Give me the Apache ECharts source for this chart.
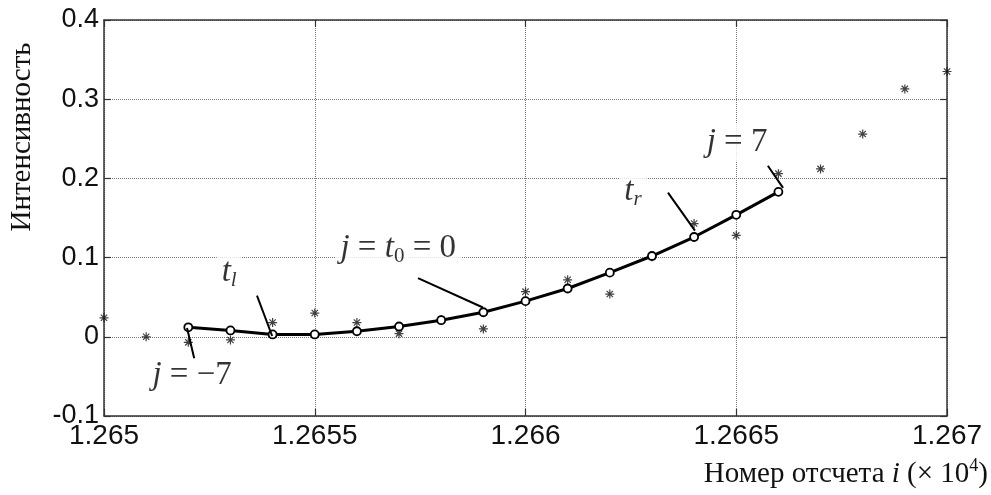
<!DOCTYPE html>
<html>
<head>
<meta charset="utf-8">
<script src="https://cdn.jsdelivr.net/npm/echarts@6/dist/echarts.min.js"></script>
<style>
  html, body { margin: 0; background: #fff; }
  #main { width: 991px; height: 495px; }
</style>
</head>
<body>
<div id="main"></div>
<script>
// sample index i (plotted as i / 1e4 on the axis labels)
const samples = [12650, 12651, 12652, 12653, 12654, 12655, 12656, 12657, 12658, 12659, 12660,
                 12661, 12662, 12663, 12664, 12665, 12666, 12667, 12668, 12669, 12670];
const measured = [0.024, 0.000, -0.007, -0.004, 0.018, 0.030, 0.018, 0.004, 0.022, 0.010, 0.057,
                  0.072, 0.054, 0.101, 0.143, 0.128, 0.206, 0.212, 0.256, 0.313, 0.335];
// fitted window j = -7 .. 7
const fitSamples = [12652, 12653, 12654, 12655, 12656, 12657, 12658, 12659,
                    12660, 12661, 12662, 12663, 12664, 12665, 12666];
const fitted = [0.012, 0.008, 0.003, 0.003, 0.007, 0.013, 0.021, 0.031,
                0.045, 0.061, 0.081, 0.102, 0.126, 0.154, 0.183];
const yTicks = [-0.1, 0, 0.1, 0.2, 0.3, 0.4];
const xTicks = [12650, 12655, 12660, 12665, 12670];

// annotation texts and leader lines (data coords)
const notes = [
  { text: '{i|j} = −7', at: [12652.09, -0.049] },
  { text: '{i|t}{subi|l}', at: [12652.97, 0.082] },
  { text: '{i|j} = {i|t}{sub|0} = 0', at: [12656.98, 0.112] },
  { text: '{i|t}{subi|r}', at: [12662.55, 0.184] },
  { text: '{i|j} = 7', at: [12665.02, 0.245] }
];
const leaders = [
  [[12651.97, 0.011], [12652.14, -0.027]],
  [[12653.63, 0.052], [12653.99, 0.001]],
  [[12657.45, 0.074], [12658.99, 0.037]],
  [[12663.38, 0.182], [12664.02, 0.134]],
  [[12665.75, 0.216], [12666.11, 0.188]]
];

const serif = 'Liberation Serif';
const sans = 'Liberation Sans';
const star = 'path://M5,0L5,10M0,5L10,5M1.5,1.5L8.5,8.5M1.5,8.5L8.5,1.5';

var myChart = echarts.init(document.getElementById('main'));

const axisLine = { show: true, onZero: false, lineStyle: { color: '#333', width: 1.5 } };
const axisTick = { show: true, inside: true, length: 7, lineStyle: { color: '#333', width: 1.2 } };
const grid = { type: 'dotted', color: '#777', width: 1 };

var option = {
  animation: false,
  backgroundColor: '#fff',
  grid: { left: 104, right: 44, top: 20, bottom: 79 },
  xAxis: [{
    type: 'value', min: xTicks[0], max: xTicks[xTicks.length - 1], interval: 5,
    position: 'bottom',
    axisLine: axisLine, axisTick: axisTick,
    splitLine: { show: true, lineStyle: grid },
    axisLabel: {
      showMinLabel: true, showMaxLabel: true, margin: 6,
      fontFamily: sans, fontSize: 28, color: '#111',
      formatter: v => String(parseFloat((v / 10000).toFixed(4)))
    }
  }, {
    type: 'value', min: xTicks[0], max: xTicks[xTicks.length - 1], interval: 5,
    position: 'top',
    axisLine: axisLine, axisTick: axisTick,
    splitLine: { show: false }, axisLabel: { show: false }
  }],
  yAxis: [{
    type: 'value', min: yTicks[0], max: yTicks[yTicks.length - 1], interval: 0.1,
    position: 'left',
    axisLine: axisLine, axisTick: axisTick,
    splitLine: { show: true, lineStyle: grid },
    axisLabel: {
      showMinLabel: true, showMaxLabel: true, margin: 5,
      fontFamily: sans, fontSize: 27, color: '#111',
      formatter: v => String(parseFloat(v.toFixed(1)))
    }
  }, {
    type: 'value', min: yTicks[0], max: yTicks[yTicks.length - 1], interval: 0.1,
    position: 'right',
    axisLine: axisLine, axisTick: axisTick,
    splitLine: { show: false }, axisLabel: { show: false }
  }],
  graphic: [{
    type: 'text', x: 22, y: 137, rotation: Math.PI / 2,
    style: {
      text: 'Интенсивность', fontFamily: serif, fontSize: 29, fill: '#111',
      align: 'center', verticalAlign: 'middle'
    }
  }, {
    type: 'text', x: 988, y: 474,
    style: {
      text: 'Номер отсчета {i|i} (× 10{sup|4})',
      fontFamily: serif, fontSize: 29, fill: '#111',
      align: 'right', verticalAlign: 'middle',
      rich: {
        i: { fontFamily: serif, fontSize: 29, fontStyle: 'italic', fill: '#111', lineHeight: 34 },
        sup: { fontFamily: serif, fontSize: 18, fill: '#111', lineHeight: 14, verticalAlign: 'top' }
      }
    }
  }],
  series: [{
    name: 'measured',
    type: 'scatter',
    data: samples.map((x, k) => [x, measured[k]]),
    symbol: star, symbolSize: 9,
    itemStyle: { color: 'none', borderColor: '#111', borderWidth: 1.2 },
    z: 2
  }, {
    name: 'fit',
    type: 'line',
    data: fitSamples.map((x, k) => [x, fitted[k]]),
    symbol: 'circle', symbolSize: 8, showSymbol: true,
    lineStyle: { color: '#000', width: 3 },
    itemStyle: { color: '#fff', borderColor: '#000', borderWidth: 1.8 },
    markLine: {
      silent: true, symbol: ['none', 'none'], animation: false,
      label: { show: false },
      lineStyle: { color: '#000', width: 2, type: 'solid' },
      data: leaders.map(p => [{ coord: p[0] }, { coord: p[1] }])
    },
    z: 3
  }, {
    name: 'notes',
    type: 'scatter',
    symbolSize: 0,
    silent: true,
    data: notes.map(n => ({ value: n.at, text: n.text })),
    label: {
      show: true, position: 'inside',
      formatter: p => p.data.text,
      fontFamily: serif, fontSize: 33, color: '#000', lineHeight: 38,
      backgroundColor: '#fff', padding: [0, 5],
      rich: {
        i: { fontFamily: serif, fontSize: 33, fontStyle: 'italic', color: '#000', lineHeight: 38 },
        subi: { fontFamily: serif, fontSize: 21, fontStyle: 'italic', color: '#000', lineHeight: 18, verticalAlign: 'bottom' },
        sub: { fontFamily: serif, fontSize: 21, color: '#000', lineHeight: 18, verticalAlign: 'bottom' }
      }
    },
    z: 4
  }]
};

option && myChart.setOption(option);
</script>
</body>
</html>
